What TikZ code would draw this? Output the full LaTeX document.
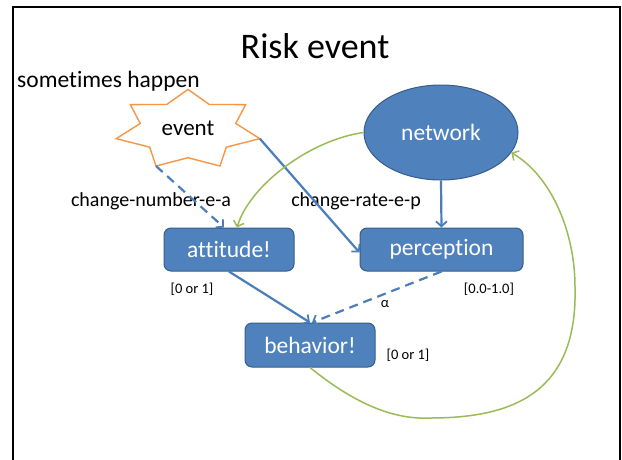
\documentclass[tikz,border=0pt]{standalone}
\usepackage{fontspec}
\setmainfont{Carlito}[Ligatures={NoCommon}]
\usetikzlibrary{shapes.geometric,arrows.meta,calc}
\definecolor{boxfill}{HTML}{4F81BD}
\definecolor{boxline}{HTML}{385D8A}
\definecolor{arrblue}{HTML}{4A7EBB}
\definecolor{grn}{HTML}{9BBB59}
\definecolor{orng}{HTML}{F79646}
\tikzset{
  box/.style={draw=boxline, line width=1pt, fill=boxfill, rounded corners=7pt, text=white, font=\fontsize{23.5}{26}\selectfont, inner sep=0pt},
  lbl/.style={font=\fontsize{20}{22}\selectfont, inner sep=0pt},
  small/.style={font=\fontsize{14.5}{16}\selectfont, inner sep=0pt},
  barrow/.style={draw=arrblue, line width=2.2pt, -{Straight Barb[length=5pt,width=11pt,line width=1.8pt]}},
  garrow/.style={draw=grn, line width=1.5pt, -{Straight Barb[length=5pt,width=11pt,line width=1.5pt]}},
  dashedline/.style={dash pattern=on 9pt off 6pt}
}
\begin{document}
\begin{tikzpicture}[x=1pt,y=-1pt]
\useasboundingbox (0,0) rectangle (622,459);
\fill[white] (0,0) rectangle (622,459);
\draw[line width=2pt] (13,7) rectangle (620,480);
% title
\node[font=\fontsize{36}{40}\selectfont, inner sep=0pt] (title) at (315,46) {Risk event};
\node[font=\fontsize{23.5}{26}\selectfont, inner sep=0pt, anchor=west] (sometimes) at (17,81) {sometimes happen};
% star
\coordinate (evc) at (188,129.7);
\foreach \k [evaluate=\k as \ang using -90+\k*180/7,
             evaluate=\k as \rx using {mod(\k,2)==0 ? 73.7 : 49},
             evaluate=\k as \ry using {mod(\k,2)==0 ? 40.3 : 28}] in {0,...,13}
  \coordinate (s\k) at ($(evc)+({\rx*cos(\ang)},{\ry*sin(\ang)})$);
\draw[orng, line width=1.4pt, line join=miter] (s0)--(s1)--(s2)--(s3)--(s4)--(s5)--(s6)--(s7)--(s8)--(s9)--(s10)--(s11)--(s12)--(s13)--cycle;
\node[font=\fontsize{23}{26}\selectfont, inner sep=0pt] (event) at (188,128) {event};
% nodes
\node[draw=boxline, line width=1pt, fill=boxfill, ellipse, minimum width=154pt, minimum height=95pt, text=white, font=\fontsize{23.5}{26}\selectfont, inner sep=0pt] (net) at (441,132.5) {network};
\node[box, minimum width=130pt, minimum height=43pt] (att) at (229,249.5) {attitude!};
\node[box, minimum width=163pt, minimum height=43pt] (per) at (441.5,249.5) {perception};
\node[box, minimum width=130pt, minimum height=44pt] (beh) at (310,345) {behavior!};
% labels
\node[lbl] (cn) at (151,201) {change-number-e-a};
\node[lbl] (cr) at (356,201) {change-rate-e-p};
\node[small] (l1) at (192,289) {[0 or 1]};
\node[small] (l2) at (489,289) {[0.0-1.0]};
\node[small] (alpha) at (385,304) {α};
\node[small] (l3) at (408,355) {[0 or 1]};
% connectors
\draw[barrow, dashedline] (s8) -- ([xshift=-5pt]att.north);
\draw[barrow] (s4) -- ([yshift=-3pt]per.west);
\draw[barrow] (net.south) -- (per.north);
\draw[barrow] (att.south) -- ([xshift=0pt]beh.north);
\draw[barrow, dashedline] (per.south) -- ([xshift=2pt]beh.north);
\draw[garrow] (net.west) .. controls (310,140) and (250,185) .. ([xshift=8pt]att.north);
\draw[garrow] (beh.south) .. controls (350,400) and (390,420) .. (430,418)
   .. controls (510,418) and (578,395) .. (575,287)
   .. controls (575,230) and (550,175) .. (net.-16);
\end{tikzpicture}
\end{document}
